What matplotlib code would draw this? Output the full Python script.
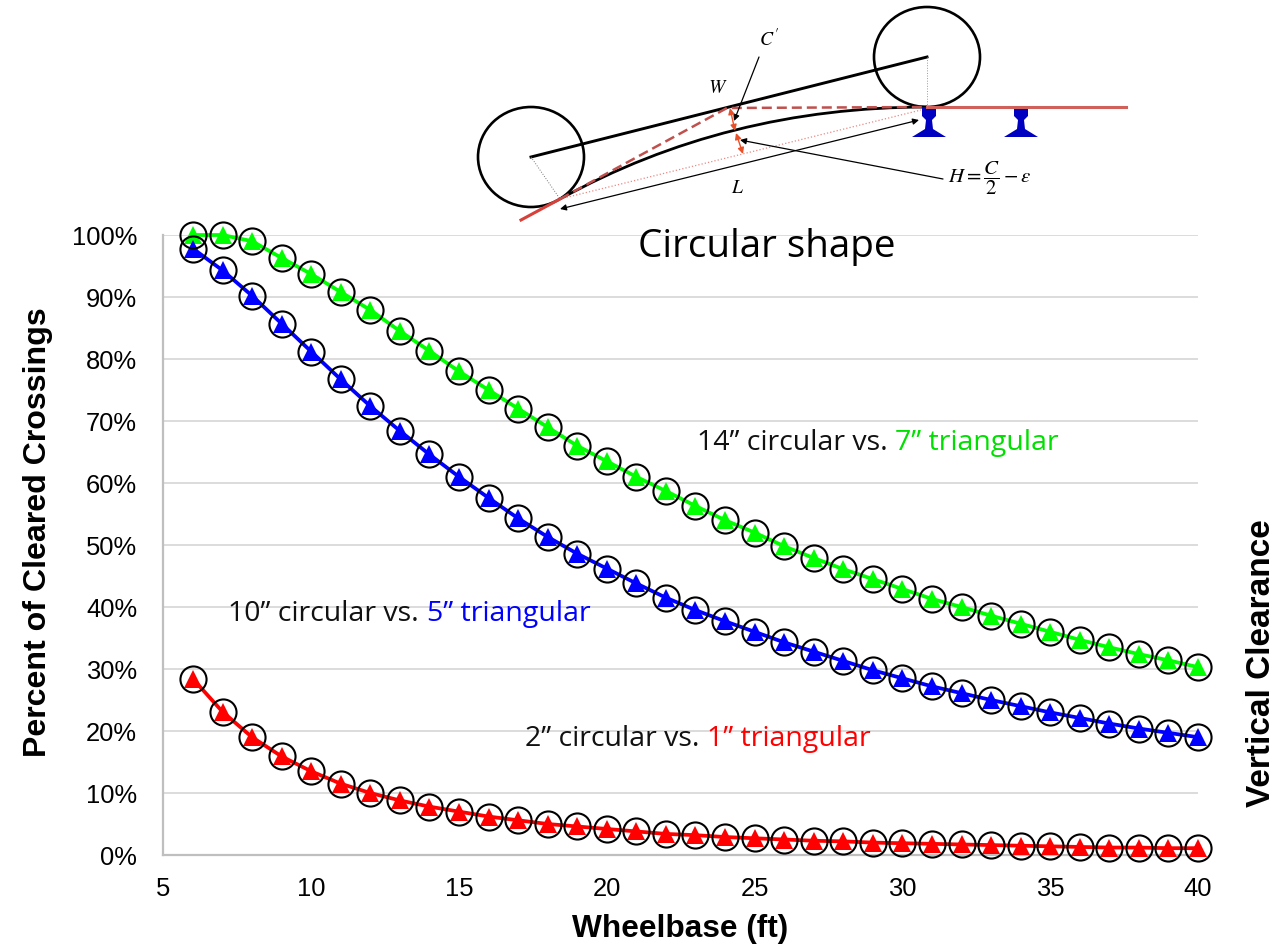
# -*- coding: utf-8 -*-
import matplotlib
matplotlib.use('Agg')
import matplotlib.pyplot as plt
from matplotlib.patches import Ellipse, Polygon, PathPatch
from matplotlib.path import Path

W, H = 1276, 947
plt.rcParams['mathtext.fontset'] = 'stix'

wheelbase = list(range(6, 41))
green = [100, 100, 99, 96.3, 93.7, 90.8, 87.9, 84.5, 81.3, 78, 75, 72, 69, 66, 63.5, 61, 58.7, 56.3,
         54, 52, 49.8, 47.9, 46.1, 44.5, 42.9, 41.3, 40, 38.6, 37.3, 36, 34.7, 33.5, 32.4, 31.4, 30.3]
blue = [97.8, 94.3, 90.2, 85.7, 81.2, 76.7, 72.4, 68.4, 64.6, 61, 57.6, 54.3, 51.3, 48.6, 46.2, 43.8,
        41.5, 39.5, 37.7, 36, 34.3, 32.8, 31.3, 29.8, 28.5, 27.2, 26.1, 25, 24, 23, 22.1, 21.2, 20.4, 19.7, 19]
red = [28.4, 23.1, 19, 15.9, 13.5, 11.5, 10, 8.8, 7.8, 7, 6.2, 5.6, 5, 4.6, 4.2, 3.8, 3.4, 3.2, 2.9,
       2.7, 2.5, 2.3, 2.2, 2.0, 1.9, 1.8, 1.7, 1.6, 1.5, 1.4, 1.3, 1.2, 1.2, 1.1, 1.1]
x_ticks = [5, 10, 15, 20, 25, 30, 35, 40]
y_ticks = list(range(0, 101, 10))

fig = plt.figure(figsize=(W / 100, H / 100), dpi=100)
ax = fig.add_axes([163.4 / W, 1 - 855 / H, (1198 - 163.4) / W, (855 - 235) / H])

for vals, col in [(green, '#00ff00'), (blue, '#0000ff'), (red, '#ff0000')]:
    ax.plot(wheelbase, vals, color=col, lw=2.7, marker='^', ms=13, mew=0, clip_on=False, zorder=3)
    ax.plot(wheelbase, vals, ls='none', marker='o', ms=18.8, mfc='none', mec='black', mew=1.5,
            clip_on=False, zorder=4)

ax.set_xlim(5, 40)
ax.set_ylim(0, 100)
ax.set_xticks(x_ticks)
ax.set_yticks(y_ticks)
ax.set_yticklabels([f'{v}%' for v in y_ticks])
ax.tick_params(length=0, labelsize=18.4, pad=19, colors='black')
ax.tick_params(axis='x', pad=16)
ax.grid(axis='y', color='#d9d9d9', lw=1.3)
ax.set_axisbelow(True)
for s in ['top', 'right']:
    ax.spines[s].set_visible(False)
for s in ['left', 'bottom']:
    ax.spines[s].set_color('#bfbfbf')
    ax.spines[s].set_linewidth(1.6)
for lab in ax.get_xticklabels() + ax.get_yticklabels():
    lab.set_family('Liberation Sans')

# overlay in pixel coordinates for the sketch and the free text
ov = fig.add_axes([0, 0, 1, 1], facecolor='none')
ov.set_xlim(0, W)
ov.set_ylim(H, 0)
ov.axis('off')

bold = dict(family='Liberation Sans', weight='bold', ha='center', va='center')
ov.text(680, 929, 'Wheelbase (ft)', fontsize=22.8, **bold)
ov.text(38, 532, 'Percent of Cleared Crossings', rotation=90, fontsize=23.1, **bold)
ov.text(1261, 663, 'Vertical Clearance', rotation=90, fontsize=24, **bold)

ov.text(767, 247, 'Circular shape', family='Open Sans', fontsize=27.8, ha='center', va='center')

notes = [(697, 895, 441, '14” circular vs. ', '7” triangular', '#00e000'),
         (228, 427, 612, '10” circular vs. ', '5” triangular', '#0000ff'),
         (525, 707, 737, '2” circular vs. ', '1” triangular', '#ff0000')]
for x0, x1, y, a, b, col in notes:
    ov.text(x0, y + 2, a, family='Open Sans', fontsize=20.5, ha='left', va='center', color='#111111')
    ov.text(x1, y + 2, b, family='Open Sans', fontsize=20.5, ha='left', va='center', color=col)

# sketch of the vehicle on the crossing
for cx, cy in [(531, 157), (927, 57)]:
    ov.add_patch(Ellipse((cx, cy), 106, 100, fc='none', ec='black', lw=1.9))
ov.plot([531, 927], [157, 57], color='black', lw=2.1)
ov.plot([927, 1126], [107, 107], color='#d0605a', lw=2.2)
ov.plot([521, 560], [220, 199], color='#d8403a', lw=2.2)
ov.plot([531, 560], [157, 199], color='#777777', lw=0.7, ls=':')
ov.plot([927, 927], [57, 107], color='#999999', lw=0.7, ls=':')
ov.plot([560, 921], [199, 110], color='#e88a85', lw=0.9, ls=':')
ov.plot([560, 727, 927], [199, 108, 107], color='#c0504d', lw=1.8, ls=(0, (4, 2)))
ov.add_patch(PathPatch(Path([(560, 199), (727, 107), (927, 107)], [Path.MOVETO, Path.CURVE3, Path.CURVE3]),
                       fc='none', ec='black', lw=2))

for rx in [929, 1021]:
    ov.add_patch(Polygon([(rx - 7, 107), (rx + 7, 107), (rx + 7, 116), (rx + 3, 120), (rx + 4, 129),
                          (rx + 17, 137), (rx - 17, 137), (rx - 4, 129), (rx - 3, 120), (rx - 7, 116)],
                         fc='#0000c0', ec='none'))


def arrow(p0, p1, style='-|>', col='black', lw=0.9):
    ov.annotate('', xy=p1, xytext=p0,
                arrowprops=dict(arrowstyle=style, color=col, lw=lw, shrinkA=0, shrinkB=0, mutation_scale=9))


arrow((560, 209), (919, 120), '<|-|>')
arrow((759, 57), (734, 121))
arrow((943, 179), (740, 140))
arrow((730, 108), (735, 131), '<|-|>', '#e8502a', 1.0)
arrow((736, 133), (743, 154), '<|-|>', '#e8502a', 1.0)

ov.text(718, 87, '$W$', ha='center', va='center', fontsize=14)
ov.text(738, 187, '$L$', ha='center', va='center', fontsize=14)
ov.text(769, 39, "$C'$", ha='center', va='center', fontsize=14)
ov.text(990, 178, r'$H=\dfrac{C}{2}-\varepsilon$', ha='center', va='center', fontsize=15)

fig.savefig('out.png', dpi=100)
